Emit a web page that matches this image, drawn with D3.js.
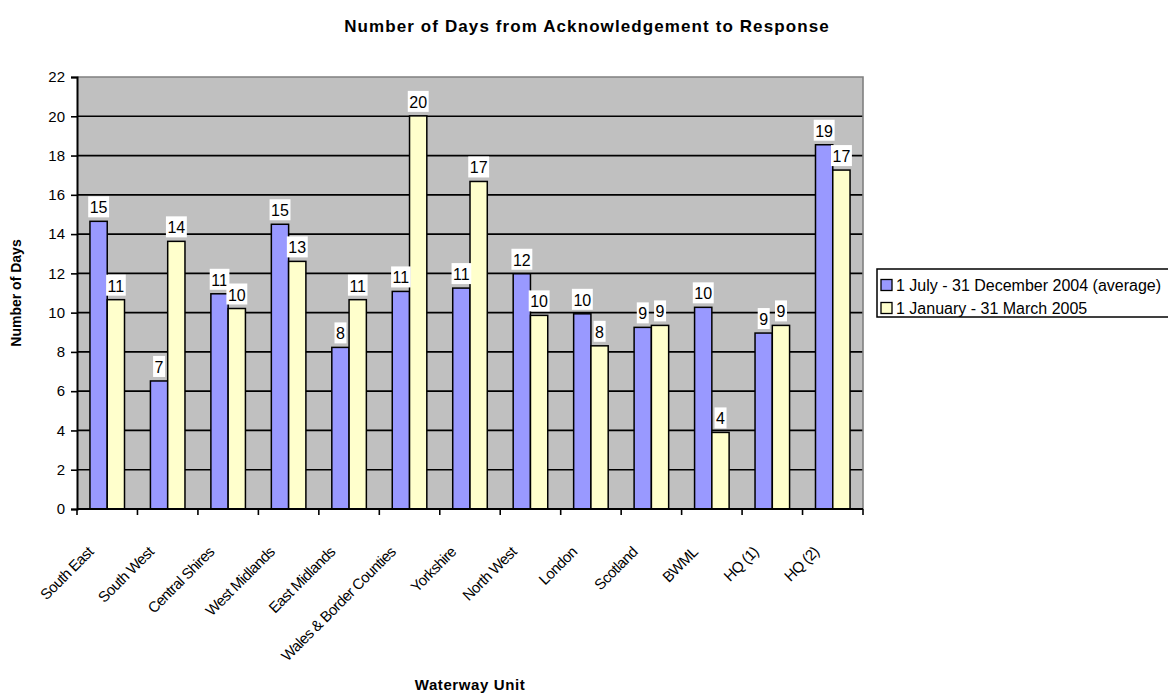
<!DOCTYPE html>
<html>
<head>
<meta charset="utf-8">
<script src="https://cdn.jsdelivr.net/npm/d3@7"></script>
<style>
  body { margin: 0; background: #fff; }
  svg { display: block; }
  text { font-family: "Liberation Sans", Arial, Helvetica, sans-serif; fill: #000; }
</style>
</head>
<body>
<svg id="chart" width="1168" height="694"></svg>
<script>
// Waterway units along the category axis
const units = [
  "South East", "South West", "Central Shires", "West Midlands", "East Midlands",
  "Wales & Border Counties", "Yorkshire", "North West", "London", "Scotland",
  "BWML", "HQ (1)", "HQ (2)"
];
// Average days from acknowledgement to response, 1 July - 31 December 2004
const secondHalf2004 = [14.65, 6.52, 10.96, 14.5, 8.23, 11.08, 11.25, 11.98, 9.94, 9.25, 10.27, 8.96, 18.55];
// Days from acknowledgement to response, 1 January - 31 March 2005
const firstQuarter2005 = [10.66, 13.63, 10.21, 12.61, 10.66, 20.02, 16.68, 9.86, 8.31, 9.35, 3.9, 9.35, 17.26];
const seriesNames = ["1 July - 31 December 2004 (average)", "1 January - 31 March 2005"];
const yTickValues = [0, 2, 4, 6, 8, 10, 12, 14, 16, 18, 20, 22];

const chartTitle = "Number of Days from Acknowledgement to Response";
const yTitle = "Number of Days";
const xTitle = "Waterway Unit";

const colors = ["#9999FF", "#FFFFCC"];
const series = [secondHalf2004, firstQuarter2005];

const svg = d3.select("#chart");
const plot = { left: 77, top: 77, right: 863, bottom: 509 };

const x = d3.scaleBand().domain(units).range([plot.left, plot.right]).paddingInner(0).paddingOuter(0);
const xSub = d3.scaleBand().domain([0, 1]).range([0, x.bandwidth()]).paddingInner(0).paddingOuter(0.75);
const y = d3.scaleLinear().domain([0, 22]).range([plot.bottom, plot.top]);

// plot background
svg.append("rect")
  .attr("x", plot.left).attr("y", plot.top)
  .attr("width", plot.right - plot.left).attr("height", plot.bottom - plot.top)
  .attr("fill", "#C0C0C0");

// horizontal gridlines
svg.append("g").selectAll("line")
  .data(yTickValues.filter(v => v > 0 && v < 22))
  .join("line")
  .attr("x1", plot.left).attr("x2", plot.right)
  .attr("y1", d => y(d)).attr("y2", d => y(d))
  .attr("stroke", "#000").attr("stroke-width", 1.7);

// grey frame on top and right of the plot area
svg.append("path")
  .attr("d", `M${plot.left},${y(22)}H${plot.right}V${plot.bottom}`)
  .attr("fill", "none").attr("stroke", "#808080").attr("stroke-width", 1.6);

// bars
const groups = svg.append("g").selectAll("g")
  .data(units)
  .join("g")
  .attr("transform", d => `translate(${x(d)},0)`);

series.forEach((vals, s) => {
  groups.append("rect")
    .attr("x", xSub(s))
    .attr("width", xSub.bandwidth())
    .attr("y", (d, i) => y(vals[i]))
    .attr("height", (d, i) => y(0) - y(vals[i]))
    .attr("fill", colors[s])
    .attr("stroke", "#000")
    .attr("stroke-width", 1.5);
});

// value labels on white boxes
series.forEach((vals, s) => {
  groups.each(function (d, i) {
    const g = d3.select(this);
    const cx = xSub(s) + xSub.bandwidth() / 2;
    const top = y(vals[i]);
    const lbl = g.append("g");
    const box = lbl.append("rect").attr("fill", "#fff");
    const t = lbl.append("text")
      .attr("x", cx)
      .attr("y", top - 8)
      .attr("text-anchor", "middle")
      .style("font-size", "16px")
      .text(Math.round(vals[i]));
    const bb = t.node().getBBox();
    box.attr("x", bb.x - 1.5).attr("y", top - 25).attr("width", bb.width + 3).attr("height", 21);
  });
});

// y axis
const yAxis = d3.axisLeft(y).tickValues(yTickValues).tickSize(6).tickPadding(6);
const yg = svg.append("g").attr("transform", `translate(${plot.left},0)`).call(yAxis);
yg.select(".domain").attr("stroke", "#000").attr("stroke-width", 2);
yg.selectAll(".tick line").attr("stroke", "#000").attr("stroke-width", 1.6);
yg.selectAll(".tick text").style("font-size", "15px")
  .style("font-family", "'Liberation Sans', Arial, sans-serif");

// x axis line with ticks at category boundaries
svg.append("line")
  .attr("x1", plot.left).attr("x2", plot.right)
  .attr("y1", plot.bottom).attr("y2", plot.bottom)
  .attr("stroke", "#000").attr("stroke-width", 2);
const boundaries = units.map(u => x(u)).concat([x.range()[1]]);
svg.append("g").selectAll("line")
  .data(boundaries)
  .join("line")
  .attr("x1", d => d).attr("x2", d => d)
  .attr("y1", plot.bottom).attr("y2", plot.bottom + 6)
  .attr("stroke", "#000").attr("stroke-width", 1.6);

// rotated category labels
svg.append("g").selectAll("text")
  .data(units)
  .join("text")
  .attr("transform", d => `translate(${x(d) + x.bandwidth() / 2 - 13},553) rotate(-45)`)
  .attr("text-anchor", "end")
  .style("font-size", "15px")
  .style("letter-spacing", "-0.6px")
  .text(d => d);

// titles
svg.append("text")
  .attr("x", 587).attr("y", 32)
  .attr("text-anchor", "middle")
  .style("font-size", "17px").style("font-weight", "bold").style("letter-spacing", "1.1px")
  .text(chartTitle);

svg.append("text")
  .attr("transform", `translate(21,${(plot.top + plot.bottom) / 2}) rotate(-90)`)
  .attr("text-anchor", "middle")
  .style("font-size", "14px").style("font-weight", "bold")
  .text(yTitle);

svg.append("text")
  .attr("x", (plot.left + plot.right) / 2).attr("y", 690)
  .attr("text-anchor", "middle")
  .style("font-size", "15px").style("font-weight", "bold").style("letter-spacing", "0.6px")
  .text(xTitle);

// legend
const legend = svg.append("g");
legend.append("rect")
  .attr("x", 877).attr("y", 269).attr("width", 320).attr("height", 48)
  .attr("fill", "#fff").attr("stroke", "#000").attr("stroke-width", 1.5);
seriesNames.forEach((name, s) => {
  const cy = 285 + s * 23;
  legend.append("rect")
    .attr("x", 881).attr("y", cy - 5.5).attr("width", 11).attr("height", 11)
    .attr("fill", colors[s]).attr("stroke", "#000").attr("stroke-width", 1.3);
  legend.append("text")
    .attr("x", 896).attr("y", cy)
    .attr("dominant-baseline", "central")
    .style("font-size", "16px")
    .text(name);
});
</script>
</body>
</html>
